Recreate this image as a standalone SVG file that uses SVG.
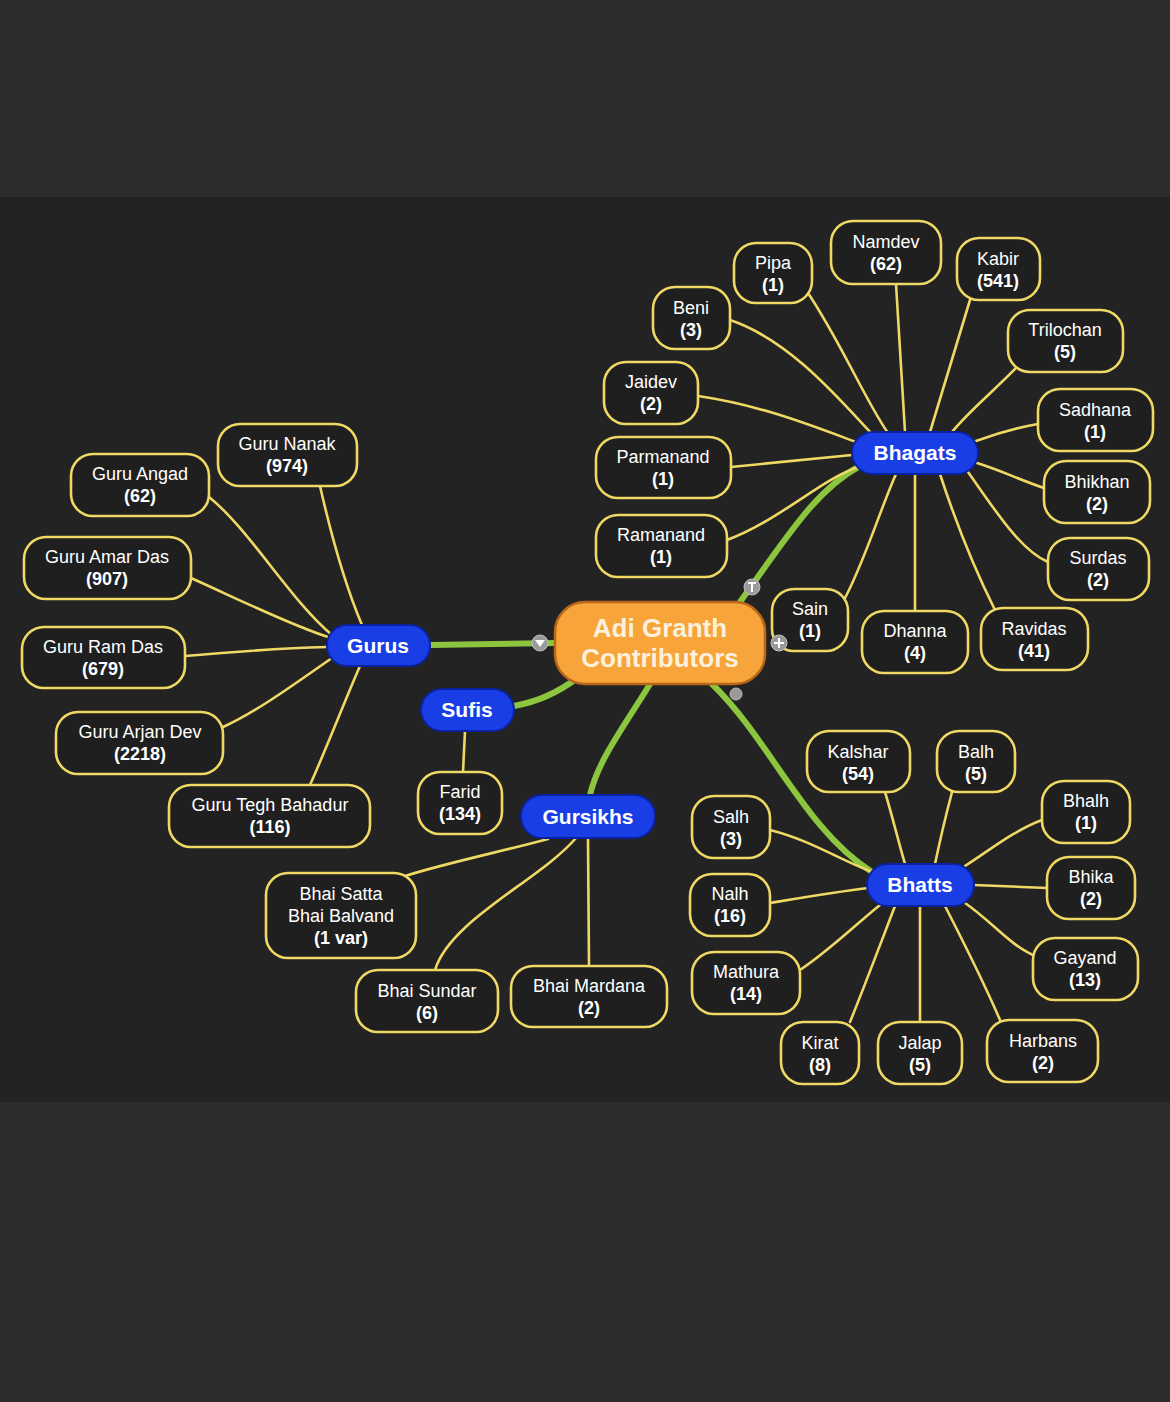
<svg xmlns="http://www.w3.org/2000/svg" width="1170" height="1402" viewBox="0 0 1170 1402">
<style>
.leaf rect{fill:#1f1f1f;stroke:#f0d865;stroke-width:2.6}
.leaf text{fill:#ffffff;font-family:"Liberation Sans",Arial,sans-serif;font-size:18px;text-anchor:middle}
.leaf .n{font-weight:bold}
.cat rect{fill:#1a3ee6;stroke:#0b22a0;stroke-width:2}
.cat text{fill:#ffffff;font-family:"Liberation Sans",Arial,sans-serif;font-size:21px;font-weight:bold;text-anchor:middle}
.y path{fill:none;stroke:#f0d865;stroke-width:2.6;stroke-linecap:round}
.g path{fill:none;stroke:#8cc63f;stroke-linecap:round}
.knob{fill:#9a9a9a;stroke:#bdbdbd;stroke-width:1}
</style>
<rect x="0" y="0" width="1170" height="1402" fill="#2c2c2c"/>
<rect x="0" y="197" width="1170" height="905" fill="#232323"/>

<g id="connectors">
 <g class="g">
  <path d="M555 643 L430 645" stroke-width="6"/>
  <path d="M580 676 C555 695 535 702 514 706" stroke-width="6"/>
  <path d="M650 684 C625 725 598 760 590 795" stroke-width="6"/>
  <path d="M740 602 C785 540 815 490 860 466" stroke-width="6"/>
  <path d="M712 684 C770 740 805 830 872 872" stroke-width="6"/>
 </g>
 <g class="y">
  <path d="M320 486 C330 530 345 585 362 625"/>
  <path d="M209 497 C250 530 290 600 332 635"/>
  <path d="M191 578 C240 600 290 625 328 637"/>
  <path d="M185 656 C230 652 290 648 327 647"/>
  <path d="M223 727 C260 710 300 680 332 658"/>
  <path d="M310 785 C330 740 345 700 360 666"/>
  <path d="M465 731 L463 772"/>
  <path d="M405 876 C450 862 500 852 548 839"/>
  <path d="M435 970 C450 920 540 880 576 838"/>
  <path d="M589 966 L588 838"/>
  <path d="M806 290 C840 340 865 400 888 433"/>
  <path d="M896 284 L905 432"/>
  <path d="M970 300 C955 350 940 400 930 432"/>
  <path d="M730 320 C790 340 840 400 872 434"/>
  <path d="M1018 366 C995 390 970 410 952 432"/>
  <path d="M698 396 C760 405 810 425 856 442"/>
  <path d="M1038 424 C1015 428 995 434 976 441"/>
  <path d="M731 467 L852 455"/>
  <path d="M1044 488 C1020 480 1000 470 977 463"/>
  <path d="M727 540 C780 520 820 480 858 467"/>
  <path d="M1048 562 C1020 550 995 510 968 472"/>
  <path d="M845 598 C865 560 880 510 896 474"/>
  <path d="M915 611 L915 474"/>
  <path d="M995 610 C975 570 955 520 940 474"/>
  <path d="M885 792 C892 815 898 840 905 864"/>
  <path d="M952 792 C946 815 940 840 935 864"/>
  <path d="M1042 820 C1015 830 990 850 965 866"/>
  <path d="M770 830 C810 840 840 860 870 871"/>
  <path d="M1047 888 L974 885"/>
  <path d="M770 903 C800 898 835 892 868 888"/>
  <path d="M1033 955 C1010 945 990 920 965 903"/>
  <path d="M800 970 C830 950 855 925 880 905"/>
  <path d="M850 1022 C865 985 880 945 895 906"/>
  <path d="M920 1022 L920 906"/>
  <path d="M1000 1020 C985 985 965 945 945 906"/>
 </g>
</g>

<g id="center">
 <rect x="555" y="602" width="210" height="82" rx="30" fill="#f7a43a" stroke="#b8671a" stroke-width="2.5"/>
 <text x="660" y="637" font-family="Liberation Sans,Arial,sans-serif" font-size="26" font-weight="bold" fill="#fdf1dc" text-anchor="middle">Adi Granth</text>
 <text x="660" y="667" font-family="Liberation Sans,Arial,sans-serif" font-size="26" font-weight="bold" fill="#fdf1dc" text-anchor="middle">Contributors</text>
</g>

<g id="gurus" class="cat"><rect x="327" y="625" width="103" height="41" rx="20"/><text x="378" y="653">Gurus</text></g>
<g id="sufis" class="cat"><rect x="421" y="689" width="93" height="42" rx="21"/><text x="467" y="717">Sufis</text></g>
<g id="gursikhs" class="cat"><rect x="521" y="795" width="134" height="43" rx="21"/><text x="588" y="824">Gursikhs</text></g>
<g id="bhagats" class="cat"><rect x="852" y="432" width="126" height="42" rx="21"/><text x="915" y="460">Bhagats</text></g>
<g id="bhatts" class="cat"><rect x="867" y="864" width="107" height="42" rx="21"/><text x="920" y="892">Bhatts</text></g>

<g id="guru-nanak" class="leaf"><rect x="218" y="424" width="139" height="62" rx="22"/><text x="287" y="450">Guru Nanak</text><text class="n" x="287" y="472">(974)</text></g>
<g id="guru-angad" class="leaf"><rect x="71" y="454" width="138" height="62" rx="22"/><text x="140" y="480">Guru Angad</text><text class="n" x="140" y="502">(62)</text></g>
<g id="guru-amar-das" class="leaf"><rect x="24" y="537" width="167" height="62" rx="22"/><text x="107" y="563">Guru Amar Das</text><text class="n" x="107" y="585">(907)</text></g>
<g id="guru-ram-das" class="leaf"><rect x="22" y="627" width="163" height="61" rx="22"/><text x="103" y="653">Guru Ram Das</text><text class="n" x="103" y="675">(679)</text></g>
<g id="guru-arjan-dev" class="leaf"><rect x="56" y="712" width="167" height="62" rx="22"/><text x="140" y="738">Guru Arjan Dev</text><text class="n" x="140" y="760">(2218)</text></g>
<g id="guru-tegh-bahadur" class="leaf"><rect x="169" y="785" width="201" height="62" rx="22"/><text x="270" y="811">Guru Tegh Bahadur</text><text class="n" x="270" y="833">(116)</text></g>

<g id="farid" class="leaf"><rect x="418" y="772" width="84" height="62" rx="22"/><text x="460" y="798">Farid</text><text class="n" x="460" y="820">(134)</text></g>

<g id="bhai-satta" class="leaf"><rect x="266" y="873" width="150" height="85" rx="22"/><text x="341" y="900">Bhai Satta</text><text x="341" y="922">Bhai Balvand</text><text class="n" x="341" y="944">(1 var)</text></g>
<g id="bhai-sundar" class="leaf"><rect x="356" y="970" width="142" height="62" rx="22"/><text x="427" y="997">Bhai Sundar</text><text class="n" x="427" y="1019">(6)</text></g>
<g id="bhai-mardana" class="leaf"><rect x="511" y="966" width="156" height="61" rx="22"/><text x="589" y="992">Bhai Mardana</text><text class="n" x="589" y="1014">(2)</text></g>

<g id="pipa" class="leaf"><rect x="734" y="243" width="78" height="60" rx="22"/><text x="773" y="269">Pipa</text><text class="n" x="773" y="291">(1)</text></g>
<g id="namdev" class="leaf"><rect x="831" y="221" width="110" height="63" rx="22"/><text x="886" y="248">Namdev</text><text class="n" x="886" y="270">(62)</text></g>
<g id="kabir" class="leaf"><rect x="957" y="238" width="83" height="62" rx="22"/><text x="998" y="265">Kabir</text><text class="n" x="998" y="287">(541)</text></g>
<g id="beni" class="leaf"><rect x="653" y="287" width="77" height="62" rx="22"/><text x="691" y="314">Beni</text><text class="n" x="691" y="336">(3)</text></g>
<g id="trilochan" class="leaf"><rect x="1008" y="310" width="115" height="62" rx="22"/><text x="1065" y="336">Trilochan</text><text class="n" x="1065" y="358">(5)</text></g>
<g id="jaidev" class="leaf"><rect x="604" y="362" width="94" height="62" rx="22"/><text x="651" y="388">Jaidev</text><text class="n" x="651" y="410">(2)</text></g>
<g id="sadhana" class="leaf"><rect x="1038" y="389" width="115" height="62" rx="22"/><text x="1095" y="416">Sadhana</text><text class="n" x="1095" y="438">(1)</text></g>
<g id="parmanand" class="leaf"><rect x="596" y="437" width="135" height="61" rx="22"/><text x="663" y="463">Parmanand</text><text class="n" x="663" y="485">(1)</text></g>
<g id="bhikhan" class="leaf"><rect x="1044" y="461" width="106" height="62" rx="22"/><text x="1097" y="488">Bhikhan</text><text class="n" x="1097" y="510">(2)</text></g>
<g id="ramanand" class="leaf"><rect x="596" y="515" width="131" height="62" rx="22"/><text x="661" y="541">Ramanand</text><text class="n" x="661" y="563">(1)</text></g>
<g id="surdas" class="leaf"><rect x="1048" y="538" width="101" height="62" rx="22"/><text x="1098" y="564">Surdas</text><text class="n" x="1098" y="586">(2)</text></g>
<g id="sain" class="leaf"><rect x="772" y="589" width="76" height="62" rx="22"/><text x="810" y="615">Sain</text><text class="n" x="810" y="637">(1)</text></g>
<g id="dhanna" class="leaf"><rect x="862" y="611" width="106" height="62" rx="22"/><text x="915" y="637">Dhanna</text><text class="n" x="915" y="659">(4)</text></g>
<g id="ravidas" class="leaf"><rect x="981" y="608" width="107" height="62" rx="22"/><text x="1034" y="635">Ravidas</text><text class="n" x="1034" y="657">(41)</text></g>

<g id="kalshar" class="leaf"><rect x="807" y="731" width="103" height="61" rx="22"/><text x="858" y="758">Kalshar</text><text class="n" x="858" y="780">(54)</text></g>
<g id="balh" class="leaf"><rect x="937" y="731" width="78" height="61" rx="22"/><text x="976" y="758">Balh</text><text class="n" x="976" y="780">(5)</text></g>
<g id="bhalh" class="leaf"><rect x="1042" y="781" width="88" height="62" rx="22"/><text x="1086" y="807">Bhalh</text><text class="n" x="1086" y="829">(1)</text></g>
<g id="salh" class="leaf"><rect x="692" y="796" width="78" height="62" rx="22"/><text x="731" y="823">Salh</text><text class="n" x="731" y="845">(3)</text></g>
<g id="bhika" class="leaf"><rect x="1047" y="857" width="88" height="62" rx="22"/><text x="1091" y="883">Bhika</text><text class="n" x="1091" y="905">(2)</text></g>
<g id="nalh" class="leaf"><rect x="690" y="874" width="80" height="62" rx="22"/><text x="730" y="900">Nalh</text><text class="n" x="730" y="922">(16)</text></g>
<g id="gayand" class="leaf"><rect x="1033" y="938" width="105" height="62" rx="22"/><text x="1085" y="964">Gayand</text><text class="n" x="1085" y="986">(13)</text></g>
<g id="mathura" class="leaf"><rect x="692" y="952" width="108" height="62" rx="22"/><text x="746" y="978">Mathura</text><text class="n" x="746" y="1000">(14)</text></g>
<g id="kirat" class="leaf"><rect x="781" y="1022" width="78" height="62" rx="22"/><text x="820" y="1049">Kirat</text><text class="n" x="820" y="1071">(8)</text></g>
<g id="jalap" class="leaf"><rect x="878" y="1022" width="84" height="62" rx="22"/><text x="920" y="1049">Jalap</text><text class="n" x="920" y="1071">(5)</text></g>
<g id="harbans" class="leaf"><rect x="987" y="1020" width="111" height="62" rx="22"/><text x="1043" y="1047">Harbans</text><text class="n" x="1043" y="1069">(2)</text></g>

<g id="knobs">
 <circle class="knob" cx="540" cy="643" r="8"/>
 <path d="M535 640 L545 640 L540 647 Z" fill="#ffffff"/>
 <circle class="knob" cx="752" cy="587" r="8"/>
 <path d="M748 583 L756 583 M752 583 L752 592" stroke="#ffffff" stroke-width="2"/>
 <circle class="knob" cx="779" cy="643" r="8"/>
 <path d="M774 643 L784 643 M779 638 L779 648" stroke="#ffffff" stroke-width="2"/>
 <circle class="knob" cx="736" cy="694" r="6"/>
</g>
</svg>
